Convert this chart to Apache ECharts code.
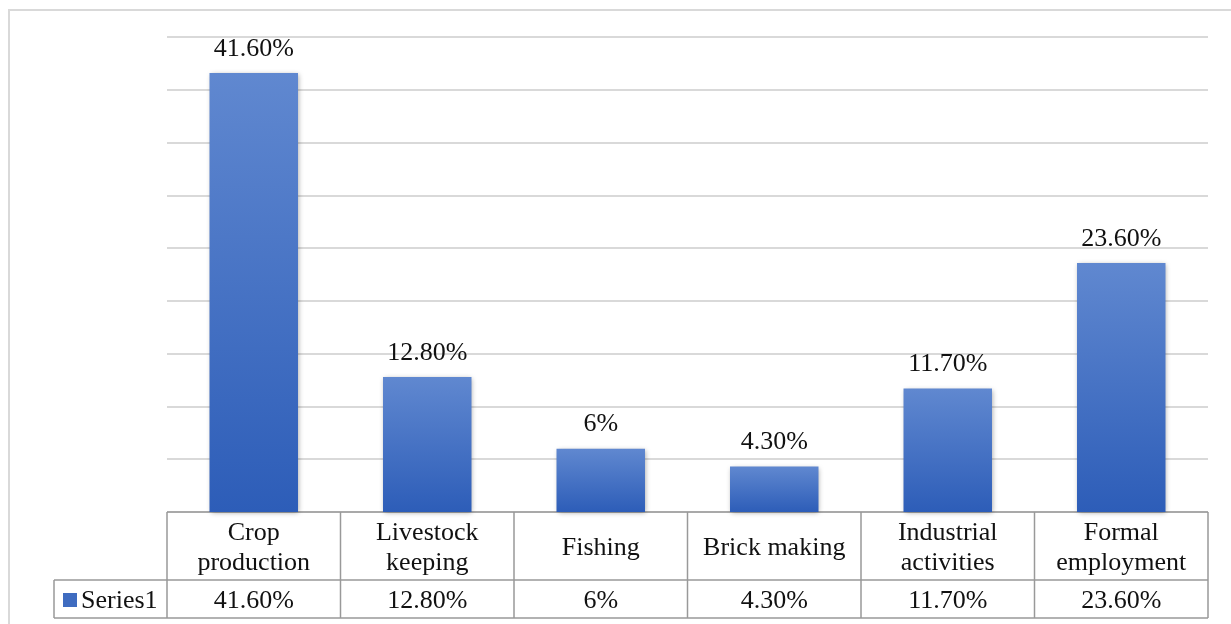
<!DOCTYPE html>
<html>
<head>
<meta charset="utf-8">
<script src="https://cdn.jsdelivr.net/npm/echarts@6/dist/echarts.min.js"></script>
<style>
  html, body { margin: 0; padding: 0; background: #fff; }
  #main { width: 1231px; height: 624px; }
</style>
</head>
<body>
<div id="main"></div>
<script>
// chart data
var categories = ['Crop\nproduction', 'Livestock\nkeeping', 'Fishing', 'Brick making', 'Industrial\nactivities', 'Formal\nemployment'];
var values = [41.6, 12.8, 6, 4.3, 11.7, 23.6];
var valueLabels = ['41.60%', '12.80%', '6%', '4.30%', '11.70%', '23.60%'];
var seriesName = 'Series1';
var yTicks = [0, 5, 10, 15, 20, 25, 30, 35, 40, 45];

var FONT = '"Liberation Serif", "Times New Roman", serif';
var FS = 26;
var myChart = echarts.init(document.getElementById('main'));

var barColor = new echarts.graphic.LinearGradient(0, 0, 0, 1, [
    { offset: 0, color: '#6088d0' },
    { offset: 1, color: '#2d5db8' }
]);

myChart.setOption({
    animation: false,
    grid: { left: 167, right: 23, top: 37, bottom: 112 },
    xAxis: {
        type: 'category',
        data: categories,
        axisLine: { show: false },
        axisTick: { show: false },
        axisLabel: { show: false }
    },
    yAxis: {
        type: 'value',
        min: yTicks[0],
        max: yTicks[yTicks.length - 1],
        interval: yTicks[1] - yTicks[0],
        axisLabel: { show: false },
        axisLine: { show: false },
        axisTick: { show: false },
        splitLine: { lineStyle: { color: '#d9d9d9', width: 2 } }
    },
    series: [{
        name: seriesName,
        type: 'bar',
        barWidth: '51%',
        data: values,
        itemStyle: {
            color: barColor,
            shadowColor: 'rgba(0,0,0,0.35)',
            shadowBlur: 5,
            shadowOffsetX: 1,
            shadowOffsetY: 1
        },
        label: {
            show: true,
            position: 'top',
            distance: 11,
            color: '#111',
            fontFamily: FONT,
            fontSize: FS,
            formatter: function (p) { return valueLabels[p.dataIndex]; }
        }
    }]
});

// data table under the plot, placed from the axis scale
var y0 = myChart.convertToPixel({ yAxisIndex: 0 }, 0);
var c0 = myChart.convertToPixel({ xAxisIndex: 0 }, 0);
var c1 = myChart.convertToPixel({ xAxisIndex: 0 }, 1);
var colW = c1 - c0;
var tLeft = c0 - colW / 2;
var tRight = tLeft + colW * categories.length;
var rowMid = y0 + 68;
var tBottom = rowMid + 38;
var legLeft = 54;
var lineStyle = { stroke: '#999', lineWidth: 1.5 };

var els = [];
els.push({ type: 'rect', shape: { x: 9, y: 10, width: 1260, height: 660 },
    style: { fill: null, stroke: '#d9d9d9', lineWidth: 2 }, silent: true });
els.push({ type: 'line', shape: { x1: tLeft, y1: y0, x2: tRight, y2: y0 }, style: lineStyle });
els.push({ type: 'line', shape: { x1: legLeft, y1: rowMid, x2: tRight, y2: rowMid }, style: lineStyle });
els.push({ type: 'line', shape: { x1: legLeft, y1: tBottom, x2: tRight, y2: tBottom }, style: lineStyle });
els.push({ type: 'line', shape: { x1: legLeft, y1: rowMid, x2: legLeft, y2: tBottom }, style: lineStyle });
for (var i = 0; i <= categories.length; i++) {
    var x = tLeft + colW * i;
    els.push({ type: 'line', shape: { x1: x, y1: y0, x2: x, y2: tBottom }, style: lineStyle });
}
categories.forEach(function (name, i) {
    var cx = myChart.convertToPixel({ xAxisIndex: 0 }, i);
    els.push({ type: 'text', x: cx, y: (y0 + rowMid) / 2 + 2,
        style: { text: name, fill: '#111', font: FS + 'px ' + FONT, align: 'center',
            verticalAlign: 'middle', lineHeight: 30 } });
    els.push({ type: 'text', x: cx, y: (rowMid + tBottom) / 2 + 2,
        style: { text: valueLabels[i], fill: '#111', font: FS + 'px ' + FONT, align: 'center',
            verticalAlign: 'middle' } });
});
els.push({ type: 'rect', shape: { x: 63, y: 593, width: 14, height: 14 }, style: { fill: '#3f6cc0' } });
els.push({ type: 'text', x: 81, y: (rowMid + tBottom) / 2 + 2,
    style: { text: seriesName, fill: '#111', font: FS + 'px ' + FONT, align: 'left', verticalAlign: 'middle' } });

myChart.setOption({ graphic: { elements: els } });
</script>
</body>
</html>
